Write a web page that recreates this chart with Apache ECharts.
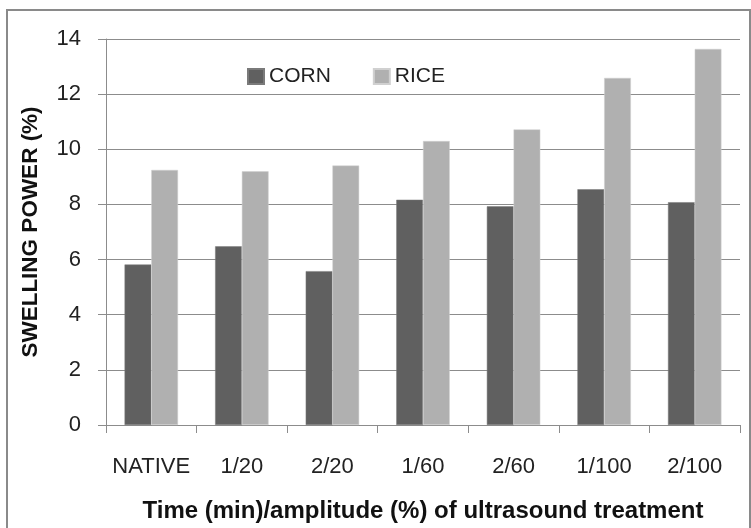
<!DOCTYPE html>
<html>
<head>
<meta charset="utf-8">
<script src="https://cdn.jsdelivr.net/npm/echarts@6/dist/echarts.min.js"></script>
<style>
  html, body { margin: 0; padding: 0; background: #fff; }
  #chart { width: 751px; height: 528px; }
</style>
</head>
<body>
<div id="chart"></div>
<script>
// Swelling power of corn and rice starch after ultrasound treatment
const categories = ['NATIVE', '1/20', '2/20', '1/60', '2/60', '1/100', '2/100'];
const cornValues = [5.82, 6.48, 5.58, 8.17, 7.93, 8.55, 8.08];
const riceValues = [9.25, 9.20, 9.41, 10.30, 10.72, 12.59, 13.64];
const yTicks = { min: 0, max: 14, interval: 2 };

const FONT = '"Liberation Sans", Arial, sans-serif';
const chart = echarts.init(document.getElementById('chart'), null, { renderer: 'canvas' });

chart.setOption({
  backgroundColor: '#ffffff',
  animation: false,
  graphic: [{
    type: 'rect',
    shape: { x: 7, y: 10, width: 743, height: 530 },
    style: { fill: 'none', stroke: '#8a8a8a', lineWidth: 2 },
    silent: true
  }],
  legend: {
    left: 247,
    top: 66,
    padding: 0,
    itemWidth: 16,
    itemHeight: 15,
    itemGap: 42,
    icon: 'rect',
    textStyle: { fontFamily: FONT, fontSize: 21, color: '#222' },
    data: ['CORN', 'RICE']
  },
  grid: { left: 106, right: 11, top: 39, bottom: 97, containLabel: false },
  xAxis: {
    type: 'category',
    data: categories,
    name: 'Time (min)/amplitude (%) of ultrasound treatment',
    nameLocation: 'middle',
    nameGap: 74,
    nameTextStyle: { fontFamily: FONT, fontSize: 24, fontWeight: 'bold', color: '#111' },
    axisLine: { lineStyle: { color: '#8c8c8c', width: 1 } },
    axisTick: { show: true, length: 8, lineStyle: { color: '#8c8c8c' } },
    axisLabel: { fontFamily: FONT, fontSize: 22, color: '#222', margin: 31, interval: 0 }
  },
  yAxis: {
    type: 'value',
    min: yTicks.min,
    max: yTicks.max,
    interval: yTicks.interval,
    name: 'SWELLING POWER (%)',
    nameLocation: 'middle',
    nameGap: 64,
    nameRotate: 90,
    nameTextStyle: { fontFamily: FONT, fontSize: 22.5, fontWeight: 'bold', color: '#111' },
    axisLine: { show: true, lineStyle: { color: '#8c8c8c', width: 1 } },
    axisTick: { show: true, length: 8, lineStyle: { color: '#8c8c8c' } },
    axisLabel: { fontFamily: FONT, fontSize: 22, color: '#222', margin: 25 },
    splitLine: { show: true, lineStyle: { color: '#8c8c8c', width: 1 } }
  },
  series: [
    {
      name: 'CORN',
      type: 'bar',
      data: cornValues,
      barGap: '0%',
      barCategoryGap: '41%',
      itemStyle: { color: '#606060', borderColor: '#7a7a7a', borderWidth: 0.5 }
    },
    {
      name: 'RICE',
      type: 'bar',
      data: riceValues,
      itemStyle: { color: '#b0b0b0', borderColor: '#d0d0d0', borderWidth: 0.5 }
    }
  ]
});
</script>
</body>
</html>
